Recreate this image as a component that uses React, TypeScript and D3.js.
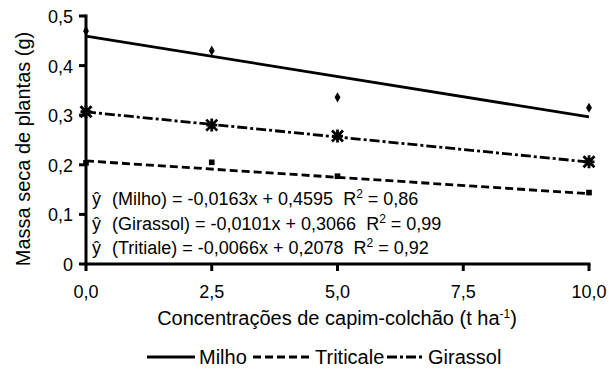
import { useEffect, useRef } from 'react';
import * as d3 from 'd3';

// Observed means (g) at each concentration (t/ha)
const doses = [0, 2.5, 5, 10];
const milho = [0.47, 0.43, 0.336, 0.315];
const girassol = [0.307, 0.28, 0.258, 0.206];
const triticale = [0.204, 0.205, 0.177, 0.144];

// Fitted lines from the equations printed on the chart: [slope, intercept]
const fitMilho = [-0.0163, 0.4595];
const fitGirassol = [-0.0101, 0.3066];
const fitTriticale = [-0.0066, 0.2078];

const xTicks = [0, 2.5, 5, 7.5, 10];
const xTickLabels = ['0,0', '2,5', '5,0', '7,5', '10,0'];
const yTicks = [0, 0.1, 0.2, 0.3, 0.4, 0.5];
const yTickLabels = ['0', '0,1', '0,2', '0,3', '0,4', '0,5'];

const equations = [
  { name: '(Milho)', eq: '= -0,0163x + 0,4595  R', r2: '0,86' },
  { name: '(Girassol)', eq: '= -0,0101x + 0,3066  R', r2: '0,99' },
  { name: '(Tritiale)', eq: '= -0,0066x + 0,2078  R', r2: '0,92' },
];

const FONT = '"Liberation Sans", Arial, sans-serif';
const DASH = '8,4';
const DASHDOT = '10,3,3,3';

export default function App() {
  const svgRef = useRef<SVGSVGElement>(null);

  useEffect(() => {
    if (!svgRef.current) return;
    const width = 609;
    const height = 371;

    const svg = d3.select(svgRef.current);
    svg.selectAll('*').remove();
    svg.attr('width', width).attr('height', height);

    const x = d3.scaleLinear().domain([0, 10]).range([86, 589]);
    const y = d3.scaleLinear().domain([0, 0.5]).range([264, 16]);

    const g = svg.append('g').attr('font-family', FONT).attr('fill', '#000');

    // Regression lines
    const fits = [
      { c: fitMilho, dash: null },
      { c: fitTriticale, dash: DASH },
      { c: fitGirassol, dash: DASHDOT },
    ];
    fits.forEach(({ c, dash }) => {
      const line = g
        .append('line')
        .attr('x1', x(0))
        .attr('y1', y(c[1]))
        .attr('x2', x(10))
        .attr('y2', y(c[0] * 10 + c[1]))
        .attr('stroke', '#000')
        .attr('stroke-width', 2.8);
      if (dash) line.attr('stroke-dasharray', dash);
    });

    // Points
    g.selectAll('.milho')
      .data(milho)
      .enter()
      .append('path')
      .attr('d', d3.symbol(d3.symbolDiamond, 30)())
      .attr('transform', (d, i) => `translate(${x(doses[i])},${y(d)})`);

    g.selectAll('.trit')
      .data(triticale)
      .enter()
      .append('path')
      .attr('d', d3.symbol(d3.symbolSquare, 32)())
      .attr('transform', (d, i) => `translate(${x(doses[i])},${y(d)})`);

    const s = 5.5;
    const star = `M${-s},${-s}L${s},${s}M${-s},${s}L${s},${-s}M0,${-s - 1}L0,${s + 1}M${-s},0L${s},0`;
    g.selectAll('.gira')
      .data(girassol)
      .enter()
      .append('path')
      .attr('d', star)
      .attr('fill', 'none')
      .attr('stroke', '#000')
      .attr('stroke-width', 2.8)
      .attr('transform', (d, i) => `translate(${x(doses[i])},${y(d)})`);

    // Axes
    g.append('line')
      .attr('x1', x(0)).attr('x2', x(0))
      .attr('y1', y(0.5) - 1.5).attr('y2', y(0) + 1.5)
      .attr('stroke', '#000').attr('stroke-width', 3);
    g.append('line')
      .attr('x1', x(0) - 1.5).attr('x2', x(10) + 1.5)
      .attr('y1', y(0)).attr('y2', y(0))
      .attr('stroke', '#000').attr('stroke-width', 3);

    yTicks.forEach((t, i) => {
      g.append('line')
        .attr('x1', x(0) - 7).attr('x2', x(0))
        .attr('y1', y(t)).attr('y2', y(t))
        .attr('stroke', '#000').attr('stroke-width', 3);
      g.append('text')
        .attr('x', x(0) - 13)
        .attr('y', y(t) + 7)
        .attr('text-anchor', 'end')
        .attr('font-size', 18)
        .text(yTickLabels[i]);
    });

    xTicks.forEach((t, i) => {
      g.append('line')
        .attr('x1', x(t)).attr('x2', x(t))
        .attr('y1', y(0)).attr('y2', y(0) + 7)
        .attr('stroke', '#000').attr('stroke-width', 3);
      g.append('text')
        .attr('x', x(t))
        .attr('y', y(0) + 34)
        .attr('text-anchor', 'middle')
        .attr('font-size', 18)
        .text(xTickLabels[i]);
    });

    // Axis titles
    g.append('text')
      .attr('transform', 'translate(30,149) rotate(-90)')
      .attr('text-anchor', 'middle')
      .attr('font-size', 20)
      .text('Massa seca de plantas (g)');

    const xt = g.append('text')
      .attr('x', 337)
      .attr('y', 325)
      .attr('text-anchor', 'middle')
      .attr('font-size', 20);
    xt.append('tspan').text('Concentrações de capim-colchão (t ha');
    xt.append('tspan').attr('font-size', 12).attr('dy', -7).text('-1');
    xt.append('tspan').attr('dy', 7).text(')');

    // Equations
    equations.forEach((e, i) => {
      const by = 205 + i * 24.5;
      g.append('text').attr('x', 92).attr('y', by).attr('font-size', 18).text('ŷ');
      const t = g.append('text')
        .attr('x', 112)
        .attr('y', by)
        .attr('font-size', 18)
        .style('white-space', 'pre');
      t.append('tspan').text(`${e.name} ${e.eq}`);
      t.append('tspan').attr('font-size', 12).attr('dy', -7).text('2');
      t.append('tspan').attr('dy', 7).text(` = ${e.r2}`);
    });

    // Legend
    const ly = 357;
    const legend = [
      { label: 'Milho', dash: null, x0: 147, x1: 195, tx: 199 },
      { label: 'Triticale', dash: DASH, x0: 253, x1: 310, tx: 315 },
      { label: 'Girassol', dash: DASHDOT, x0: 387, x1: 424, tx: 428 },
    ];
    legend.forEach((l) => {
      const ln = g.append('line')
        .attr('x1', l.x0).attr('x2', l.x1)
        .attr('y1', ly).attr('y2', ly)
        .attr('stroke', '#000').attr('stroke-width', 2.8);
      if (l.dash) ln.attr('stroke-dasharray', l.dash);
      g.append('text')
        .attr('x', l.tx)
        .attr('y', ly + 7)
        .attr('font-size', 20)
        .text(l.label);
    });
  }, []);

  return <svg ref={svgRef} style={{ position: 'absolute', left: 0, top: 0, background: '#fff' }} />;
}
